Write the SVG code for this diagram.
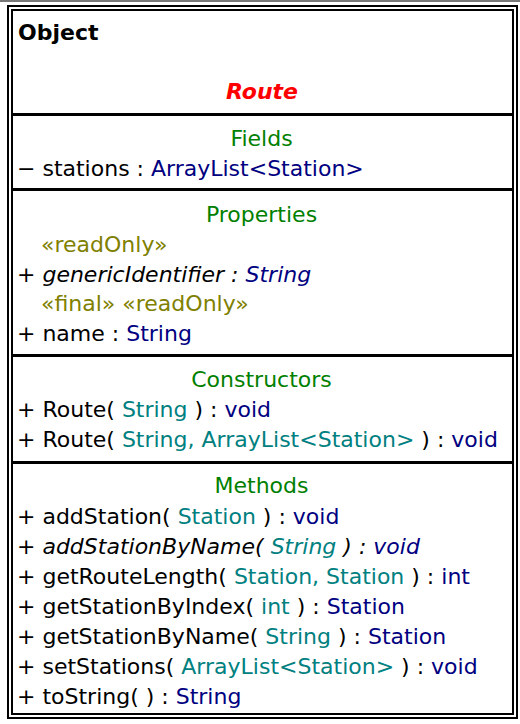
<svg xmlns="http://www.w3.org/2000/svg" width="520" height="724" viewBox="0 0 520 724">
<style>
text{font-family:"DejaVu Sans","Liberation Sans",sans-serif;font-size:22px;fill:#000}
.h{text-anchor:middle;fill:#008000}
.n{fill:#000080}
.p{fill:#008080}
.o{fill:#808000}
.i{font-style:italic}
.frame{fill:none;stroke:#000;stroke-width:2}
.div{fill:#000}
</style>
<rect x="0" y="0" width="520" height="724" fill="#fff"/>
<rect x="0" y="0" width="520" height="2" fill="#777"/>
<g id="class-Route">
<rect class="frame" x="8" y="6" width="509" height="712"/>
<rect class="frame" x="12" y="10" width="501" height="704"/>
<rect class="div" x="12" y="113" width="501" height="3"/>
<rect class="div" x="12" y="188" width="501" height="3"/>
<rect class="div" x="12" y="354" width="501" height="3"/>
<rect class="div" x="12" y="461" width="501" height="3"/>
<text x="18" y="40" font-weight="bold">Object</text>
<text x="262" y="99" text-anchor="middle" font-weight="bold" font-style="italic" fill="#ff0000" style="fill:#ff0000">Route</text>
<text class="h" x="261.5" y="146">Fields</text>
<text x="17" y="176">− stations : <tspan class="n">ArrayList&lt;Station&gt;</tspan></text>
<text class="h" x="261.5" y="222">Properties</text>
<text class="o" x="41" y="252">«readOnly»</text>
<text class="i" x="17" y="282">+ genericIdentifier : <tspan class="n">String</tspan></text>
<text class="o" x="41" y="311">«final» «readOnly»</text>
<text x="17" y="341">+ name : <tspan class="n">String</tspan></text>
<text class="h" x="261.5" y="387">Constructors</text>
<text x="17" y="417">+ Route( <tspan class="p">String</tspan> ) : <tspan class="n">void</tspan></text>
<text x="17" y="447">+ Route( <tspan class="p">String, ArrayList&lt;Station&gt;</tspan> ) : <tspan class="n">void</tspan></text>
<text class="h" x="261.5" y="493">Methods</text>
<text x="17" y="524">+ addStation( <tspan class="p">Station</tspan> ) : <tspan class="n">void</tspan></text>
<text class="i" x="17" y="554">+ addStationByName( <tspan class="p">String</tspan> ) : <tspan class="n">void</tspan></text>
<text x="17" y="584">+ getRouteLength( <tspan class="p">Station, Station</tspan> ) : <tspan class="n">int</tspan></text>
<text x="17" y="614">+ getStationByIndex( <tspan class="p">int</tspan> ) : <tspan class="n">Station</tspan></text>
<text x="17" y="644">+ getStationByName( <tspan class="p">String</tspan> ) : <tspan class="n">Station</tspan></text>
<text x="17" y="674">+ setStations( <tspan class="p">ArrayList&lt;Station&gt;</tspan> ) : <tspan class="n">void</tspan></text>
<text x="17" y="704">+ toString( ) : <tspan class="n">String</tspan></text>
</g>
<g id="connectors"></g>
</svg>
